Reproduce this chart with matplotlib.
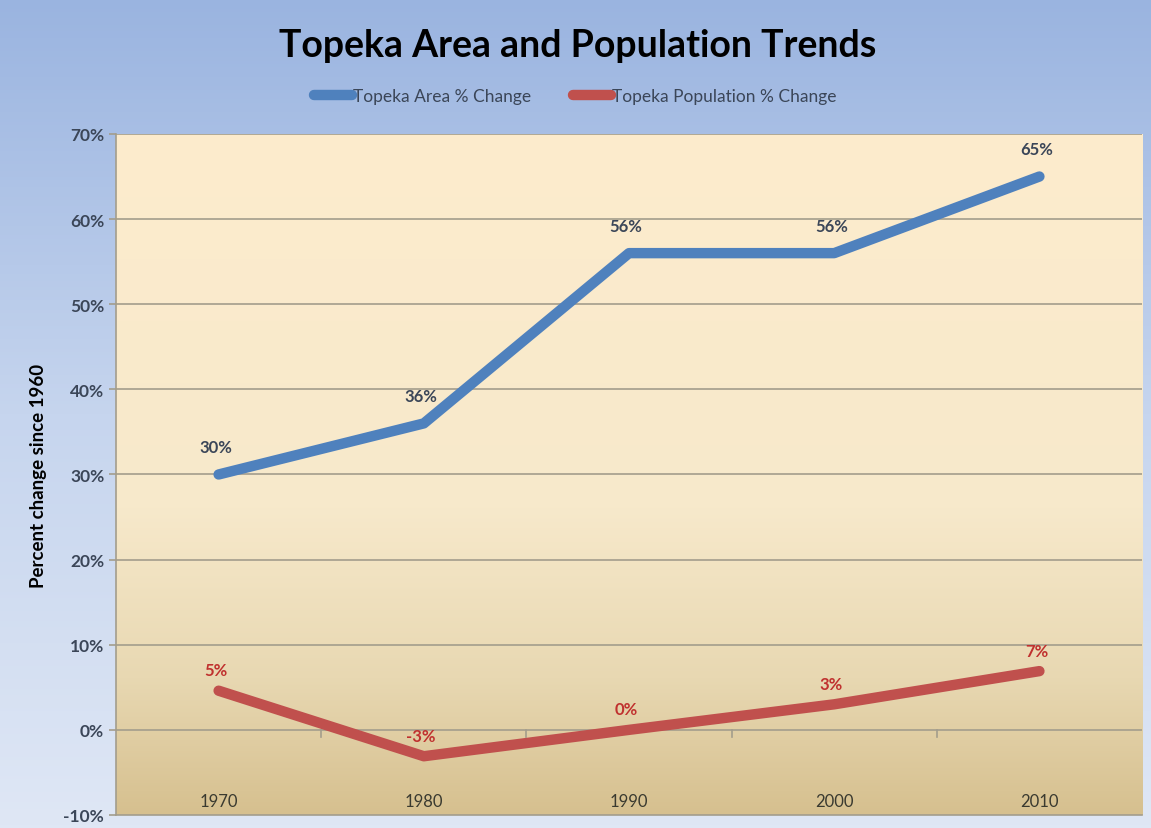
import matplotlib
matplotlib.use('Agg')
import matplotlib.pyplot as plt
import numpy as np
from matplotlib.colors import LinearSegmentedColormap

plt.rcParams['font.family'] = ['Lato', 'DejaVu Sans']

years = ['1970', '1980', '1990', '2000', '2010']
area_pct = [30, 36, 56, 56, 65]
pop_pct = [4.6, -3.1, 0.0, 3.0, 6.9]
yticks = [-10, 0, 10, 20, 30, 40, 50, 60, 70]

blue = '#4f81bd'
red = '#c0504d'
txt = '#3b4658'

fig = plt.figure(figsize=(11.51, 8.29), dpi=100)

# figure background gradient
bg = fig.add_axes([0, 0, 1, 1], zorder=-10)
bg_cmap = LinearSegmentedColormap.from_list('bg', ['#dfe7f5', '#c6d5ee', '#9ab4e0'])
bg.imshow(np.linspace(0, 1, 256).reshape(-1, 1), cmap=bg_cmap, origin='lower',
          aspect='auto', extent=[0, 1, 0, 1])
bg.axis('off')

ax = fig.add_axes([0.1008, 0.0157, 0.8914, 0.8215])
x = np.arange(len(years))

# plot area gradient
pa_cmap = LinearSegmentedColormap.from_list('pa', [(0, '#d6c08f'), (0.2, '#e8d8b2'),
                                                  (0.45, '#f7e9cb'), (1, '#fdeccd')])
ax.imshow(np.linspace(0, 1, 256).reshape(-1, 1), cmap=pa_cmap, origin='lower',
          aspect='auto', extent=[-0.5, 4.5, -10, 70], zorder=0)

ax.set_xlim(-0.5, 4.5)
ax.set_ylim(-10, 70)
for v in yticks[1:]:
    ax.axhline(v, color='#a39d8c', lw=1.2, zorder=1)
# category ticks on the zero line
for b in np.arange(0.5, 4.5, 1.0):
    ax.plot([b, b], [0, -0.8], color='#a39d8c', lw=1.2, zorder=1)

ax.plot(x, area_pct, color=blue, lw=7.5, solid_capstyle='round',
        solid_joinstyle='round', zorder=3, label='Topeka Area % Change')
ax.plot(x, pop_pct, color=red, lw=7.5, solid_capstyle='round',
        solid_joinstyle='round', zorder=3, label='Topeka Population % Change')

for i, v in enumerate(area_pct):
    ax.annotate('%d%%' % round(v), (i, v), xytext=(-2, 14), textcoords='offset points',
                ha='center', va='bottom', fontsize=12, fontweight='bold', color=txt)
for i, v in enumerate(pop_pct):
    ax.annotate('%d%%' % round(v), (i, v), xytext=(-2, 9), textcoords='offset points',
                ha='center', va='bottom', fontsize=12, fontweight='bold', color='#c0312f')

for i, y in enumerate(years):
    ax.annotate(y, (i, -10), xytext=(0, 4), textcoords='offset points',
                ha='center', va='bottom', fontsize=12, color='#3a3a30')

ax.set_xticks([])
ax.set_yticks(yticks)
ax.set_yticklabels(['%d%%' % v for v in yticks], fontsize=12.5, fontweight='bold', color=txt)
ax.tick_params(axis='y', length=5, color='#a39d8c', width=1.2)
for s in ['top', 'right']:
    ax.spines[s].set_visible(False)
ax.spines['left'].set_color('#a39d8c')
ax.spines['bottom'].set_color('#a39d8c')
ax.spines['left'].set_linewidth(1.2)
ax.spines['bottom'].set_linewidth(1.2)

ax.set_ylabel('Percent change since 1960', fontsize=13.5, fontweight='bold', color='black',
              labelpad=12)

fig.text(0.502, 0.945, 'Topeka Area and Population Trends', ha='center', va='center',
         fontsize=27, fontweight='bold', color='black')
fig.legend(loc='center', bbox_to_anchor=(0.5, 0.883), ncol=2, frameon=False,
           fontsize=12.5, handlelength=2.2, handletextpad=0.05, columnspacing=2.4,
           labelcolor=txt)

fig.savefig('out.png', dpi=100)
